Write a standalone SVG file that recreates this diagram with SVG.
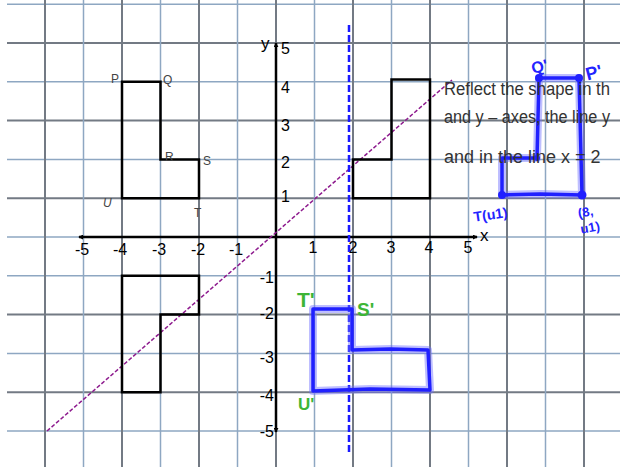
<svg xmlns="http://www.w3.org/2000/svg" width="620" height="473" viewBox="0 0 620 473">
<style>
.gd{stroke:#737a84;stroke-width:2;fill:none}
.gl{stroke:#8ea7c2;stroke-width:1.5;fill:none}
.ax{stroke:#000;stroke-width:2.5;fill:none}
.shape{stroke:#000;stroke-width:2.5;fill:none}
.num{font-family:"Liberation Sans",Arial,sans-serif;font-size:16px;fill:#000}
.pt{font-family:"Liberation Sans",Arial,sans-serif;font-size:12px;fill:#444}
.note{font-family:"Liberation Sans",Arial,sans-serif;font-size:18px;fill:#333}
.hb{font-family:"Liberation Sans",Arial,sans-serif;font-weight:bold;fill:#2323ff}
.hg{font-family:"Liberation Sans",Arial,sans-serif;font-weight:bold;fill:#3db536}
.glow{stroke:#6f6fff;stroke-opacity:0.45;stroke-width:8;fill:none;stroke-linejoin:round}
.ink{stroke:#2020ff;stroke-width:3.5;fill:none;stroke-linejoin:round}
</style>
<defs>
<marker id="ah" viewBox="0 0 6 6" refX="5" refY="3" markerWidth="5" markerHeight="5" orient="auto-start-reverse" markerUnits="userSpaceOnUse">
<path d="M0,0 L6,3 L0,6 Z" fill="#000"/>
</marker>
</defs>
<rect width="620" height="473" fill="#fff"/>
<g id="grid">
<line class="gl" x1="7" y1="4.2" x2="620" y2="4.2"/>
<line class="gd" x1="7" y1="43" x2="620" y2="43"/>
<line class="gl" x1="7" y1="81.8" x2="620" y2="81.8"/>
<line class="gd" x1="7" y1="120.6" x2="620" y2="120.6"/>
<line class="gl" x1="7" y1="159.4" x2="620" y2="159.4"/>
<line class="gd" x1="7" y1="198.2" x2="620" y2="198.2"/>
<line class="gl" x1="7" y1="237" x2="620" y2="237"/>
<line class="gl" x1="7" y1="275.8" x2="620" y2="275.8"/>
<line class="gd" x1="7" y1="314.6" x2="620" y2="314.6"/>
<line class="gl" x1="7" y1="353.4" x2="620" y2="353.4"/>
<line class="gd" x1="7" y1="392.2" x2="620" y2="392.2"/>
<line class="gl" x1="7" y1="431" x2="620" y2="431"/>
<line class="gd" x1="45" y1="0" x2="45" y2="467"/>
<line class="gl" x1="83.5" y1="0" x2="83.5" y2="467"/>
<line class="gd" x1="122" y1="0" x2="122" y2="467"/>
<line class="gl" x1="160.5" y1="0" x2="160.5" y2="467"/>
<line class="gd" x1="199" y1="0" x2="199" y2="467"/>
<line class="gl" x1="237.5" y1="0" x2="237.5" y2="467"/>
<line class="gd" x1="276" y1="0" x2="276" y2="467"/>
<line class="gl" x1="314.5" y1="0" x2="314.5" y2="467"/>
<line class="gd" x1="353" y1="0" x2="353" y2="467"/>
<line class="gl" x1="391.5" y1="0" x2="391.5" y2="467"/>
<line class="gd" x1="430" y1="0" x2="430" y2="467"/>
<line class="gl" x1="468.5" y1="0" x2="468.5" y2="467"/>
<line class="gd" x1="507" y1="0" x2="507" y2="467"/>
<line class="gl" x1="545.5" y1="0" x2="545.5" y2="467"/>
<line class="gd" x1="584" y1="0" x2="584" y2="467"/>
</g>
<g id="axes">
<line class="ax" x1="79" y1="237" x2="477" y2="237" marker-start="url(#ah)" marker-end="url(#ah)"/>
<line class="ax" x1="276" y1="43" x2="276" y2="432" marker-start="url(#ah)" marker-end="url(#ah)"/>
<text class="num" x="261" y="49" style="font-size:17px">y</text>
<text class="num" x="480" y="241" style="font-size:17px">x</text>
</g>
<g id="x-labels" class="num" text-anchor="middle">
<text x="82" y="255">-5</text>
<text x="120" y="255">-4</text>
<text x="159" y="255">-3</text>
<text x="198" y="255">-2</text>
<text x="236" y="255">-1</text>
<text x="313" y="253">1</text>
<text x="353" y="253">2</text>
<text x="391" y="253">3</text>
<text x="429" y="253">4</text>
<text x="468" y="253">5</text>
</g>
<g id="y-labels" class="num">
<text x="281" y="54">5</text>
<text x="281" y="93">4</text>
<text x="281" y="131">3</text>
<text x="281" y="168">2</text>
<text x="281" y="202">1</text>
<g text-anchor="end">
<text x="274" y="283">-1</text>
<text x="274" y="319">-2</text>
<text x="274" y="363">-3</text>
<text x="274" y="401">-4</text>
<text x="274" y="437">-5</text>
</g>
</g>
<g id="connectors">
<line id="line-y-eq-x" x1="47" y1="431" x2="452" y2="80" stroke="#8e1b8e" stroke-width="1.5" stroke-dasharray="4 2"/>
<line id="line-x-eq-2" x1="349" y1="25" x2="349" y2="454" stroke="#1a1aff" stroke-width="2.5" stroke-dasharray="7 3"/>
</g>
<g id="shape-original">
<path class="shape" d="M122,81.8 H160.5 V159.4 H199 V198.2 H122 Z"/>
<text class="pt" x="111" y="83">P</text>
<text class="pt" x="163" y="84">Q</text>
<text class="pt" x="165" y="161">R</text>
<text class="pt" x="203" y="165">S</text>
<text class="pt" x="103" y="207" font-style="italic">U</text>
<text class="pt" x="194" y="217">T</text>
</g>
<g id="shape-y-axis-reflection">
<path class="shape" d="M353,198.2 V159.4 H391.5 V79.5 H430 V198.2 Z"/>
</g>
<g id="shape-x-axis-reflection">
<path class="shape" d="M122,275.8 H199 V314.6 H160.5 V392.2 H122 Z"/>
</g>
<g id="shape-x2-reflection">
<path class="glow" d="M313,309 L352,309 L352,350 L390,349 L428,350 L430,390 L370,389 L313,391 Z"/>
<path class="ink" d="M313,309 L352,309 L352,350 L390,349 L428,350 L430,390 L370,389 L313,391 Z"/>
<text class="hg" x="297" y="307" font-size="21">T'</text>
<text class="hg" x="357" y="316" font-size="19">S'</text>
<text class="hg" x="298" y="410" font-size="17">U'</text>
</g>
<g id="shape-handdrawn">
<path class="glow" d="M539,78 L579,78 L582,195 L540,194 L502,195 L502,158 L537,158 Z"/>
<path class="ink" d="M539,78 L579,78 L582,195 L540,194 L502,195 L502,158 L537,158 Z"/>
<g fill="#2020ff">
<circle cx="539" cy="78" r="4"/>
<circle cx="579" cy="78" r="4"/>
<circle cx="582" cy="195" r="4.5"/>
<circle cx="502" cy="195" r="4"/>
<circle cx="537" cy="158" r="3"/>
</g>
<text class="hb" x="531" y="72" font-size="16" transform="rotate(-15 540 65)">Q'</text>
<text class="hb" x="585" y="79" font-size="18" transform="rotate(-15 592 70)">P'</text>
<text class="hb" x="473" y="219" font-size="14" transform="rotate(-8 494 211)">T(u1)</text>
<text class="hb" x="578" y="216" font-size="13" transform="rotate(-10 588 212)">(8,</text>
<text class="hb" x="580" y="232" font-size="13" transform="rotate(-10 590 226)">u1)</text>
</g>
<g id="instructions" class="note">
<text x="444" y="95" textLength="166" lengthAdjust="spacingAndGlyphs">Reflect the shape in th</text>
<text x="444" y="123" textLength="166" lengthAdjust="spacingAndGlyphs">and y – axes, the line y</text>
<text x="444" y="163">and in the line x = 2</text>
</g>
</svg>
